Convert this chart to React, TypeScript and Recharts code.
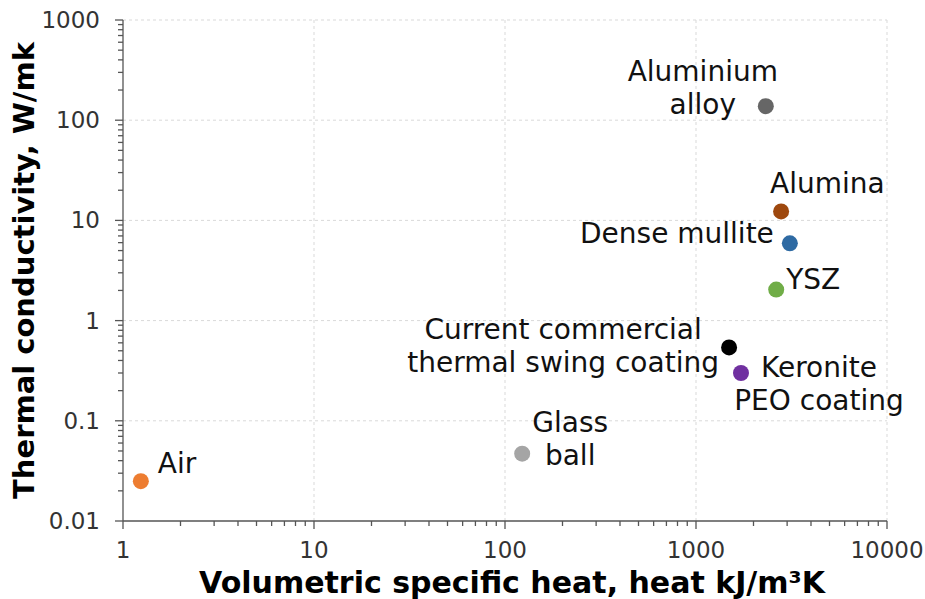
import { Cell, ReferenceLine, Scatter, ScatterChart, XAxis, YAxis } from "recharts";

const materials = [
  "Air",
  "Glass ball",
  "Current commercial thermal swing coating",
  "Keronite PEO coating",
  "Aluminium alloy",
  "Alumina",
  "Dense mullite",
  "YSZ",
];
const heatCapacity = [1.24, 123, 1490, 1720, 2320, 2790, 3100, 2630];
const conductivity = [0.025, 0.047, 0.54, 0.3, 138, 12.3, 5.9, 2.04];
const colors = ["#ED7D31", "#A5A5A5", "#000000", "#7030A0", "#666666", "#9E480E", "#2E6AA3", "#70AD47"];

const xMajor = [1, 10, 100, 1000, 10000];
const yMajor = [0.01, 0.1, 1, 10, 100, 1000];
const minorSteps = [2, 3, 4, 5, 6, 7, 8, 9];

// label text lines and placement relative to the dot
const labelLayout: Record<string, { lines: string[]; dx: number; dy: number; anchor: "start" | "middle" | "end" }> = {
  Air: { lines: ["Air"], dx: 17, dy: -8, anchor: "start" },
  "Glass ball": { lines: ["Glass", "ball"], dx: 48, dy: -22, anchor: "middle" },
  "Current commercial thermal swing coating": {
    lines: ["Current commercial", "thermal swing coating"],
    dx: -166,
    dy: -8,
    anchor: "middle",
  },
  "Keronite PEO coating": { lines: ["Keronite", "PEO coating"], dx: 78, dy: 4, anchor: "middle" },
  "Aluminium alloy": { lines: ["Aluminium", "alloy"], dx: -63, dy: -25, anchor: "middle" },
  Alumina: { lines: ["Alumina"], dx: -11, dy: -18, anchor: "start" },
  "Dense mullite": { lines: ["Dense mullite"], dx: -16, dy: 0, anchor: "end" },
  YSZ: { lines: ["YSZ"], dx: 10, dy: -1, anchor: "start" },
};

const data = materials.map((name, i) => ({ name, x: heatCapacity[i], y: conductivity[i] }));

const withMinors = (majors: number[]) => {
  const out: number[] = [...majors];
  majors.slice(0, -1).forEach((d) => minorSteps.forEach((s) => out.push(d * s)));
  return out.sort((a, b) => a - b);
};
const xTicks = withMinors(xMajor);
const yTicks = withMinors(yMajor);

const FONT = "'DejaVu Sans', Verdana, sans-serif";
const AXIS = "#555555";

const XTick = (props: any) => {
  const { x, y, payload } = props;
  const major = xMajor.includes(payload.value);
  return (
    <g>
      <line x1={x} x2={x} y1={y} y2={y + (major ? 8 : 5)} stroke={AXIS} strokeWidth={1.3} />
      {major && (
        <text x={x} y={y + 37} textAnchor="middle" fontSize={23} fontFamily={FONT} fill="#333">
          {payload.value}
        </text>
      )}
    </g>
  );
};

const YTick = (props: any) => {
  const { x, y, payload } = props;
  const major = yMajor.includes(payload.value);
  return (
    <g>
      <line x1={x} x2={x - (major ? 8 : 5)} y1={y} y2={y} stroke={AXIS} strokeWidth={1.3} />
      {major && (
        <text x={x - 23} y={y + 8} textAnchor="end" fontSize={23} fontFamily={FONT} fill="#333">
          {payload.value}
        </text>
      )}
    </g>
  );
};

const renderPoint = (props: any) => {
  const { cx, cy, payload, fill } = props;
  const lay = labelLayout[payload.name];
  return (
    <g>
      <circle cx={cx} cy={cy} r={8} fill={fill} />
      {lay.lines.map((line, i) => (
        <text
          key={i}
          x={cx + lay.dx}
          y={cy + lay.dy + i * 33}
          textAnchor={lay.anchor}
          fontSize={28}
          fontFamily={FONT}
          fill="#111"
        >
          {line}
        </text>
      ))}
    </g>
  );
};

export default function App() {
  return (
    <div style={{ position: "absolute", left: 0, top: 0, background: "#fff" }}>
      <ScatterChart width={925} height={599} margin={{ top: 20, right: 38, left: 0, bottom: 0 }}>
        {xMajor.slice(1).map((v) => (
          <ReferenceLine key={`gx${v}`} x={v} stroke="#d9d9d9" strokeDasharray="3 3" />
        ))}
        {yMajor.slice(1).map((v) => (
          <ReferenceLine key={`gy${v}`} y={v} stroke="#d9d9d9" strokeDasharray="3 3" />
        ))}
        <XAxis
          dataKey="x"
          type="number"
          scale="log"
          domain={[1, 10000]}
          ticks={xTicks}
          interval={0}
          tick={<XTick />}
          tickLine={false}
          tickSize={0}
          tickMargin={0}
          axisLine={{ stroke: AXIS, strokeWidth: 1.3 }}
          height={78}
          label={{
            value: "Volumetric specific heat, heat kJ/m³K",
            position: "insideBottom",
            offset: 6,
            fontSize: 30,
            fontWeight: "bold",
            fontFamily: FONT,
            fill: "#000",
            dx: 7,
          }}
        />
        <YAxis
          dataKey="y"
          type="number"
          scale="log"
          domain={[0.01, 1000]}
          ticks={yTicks}
          interval={0}
          tick={<YTick />}
          tickLine={false}
          tickSize={0}
          tickMargin={0}
          axisLine={{ stroke: AXIS, strokeWidth: 1.3 }}
          width={123}
          label={{
            value: "Thermal conductivity, W/mk",
            angle: -90,
            position: "insideLeft",
            offset: 24,
            fontSize: 29,
            fontWeight: "bold",
            fontFamily: FONT,
            fill: "#000",
            style: { textAnchor: "middle" },
          }}
        />
        <Scatter data={data} shape={renderPoint} isAnimationActive={false}>
          {data.map((d, i) => (
            <Cell key={d.name} fill={colors[i]} />
          ))}
        </Scatter>
      </ScatterChart>
    </div>
  );
}
